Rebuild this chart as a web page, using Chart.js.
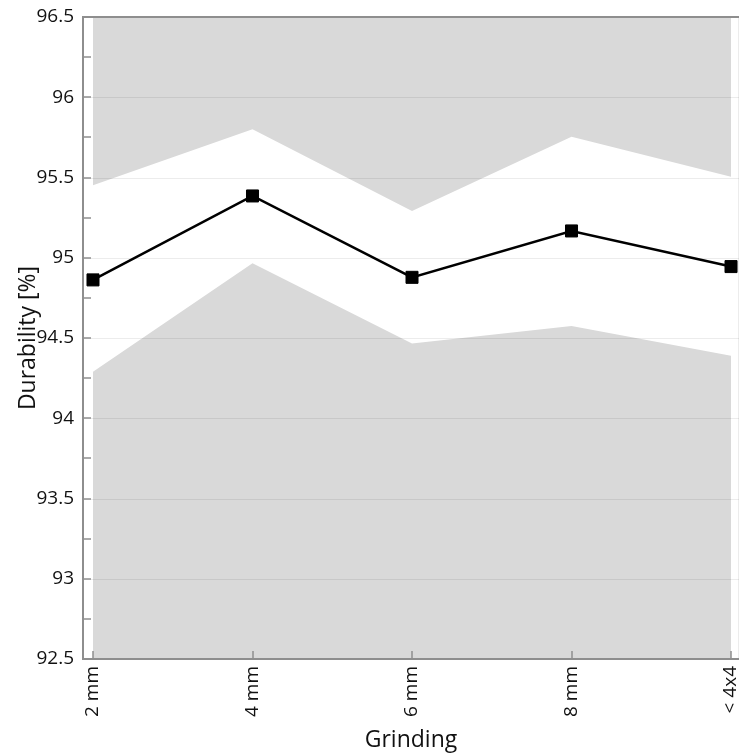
<!DOCTYPE html>
<html><head><meta charset="utf-8">
<script src="https://cdn.jsdelivr.net/npm/chart.js@4/dist/chart.umd.min.js"></script>
<style>html,body{margin:0;padding:0;background:#fff}#wrap{width:740px;height:756px}</style>
</head><body><div id="wrap"><canvas id="c" width="740" height="756"></canvas></div>
<script>
const categories = ['2 mm', '4 mm', '6 mm', '8 mm', '< 4x4'];
const durability = [94.862, 95.385, 94.878, 95.167, 94.945];
const upperBand = [95.452, 95.80, 95.292, 95.754, 95.505];
const lowerBand = [94.29, 94.965, 94.465, 94.575, 94.39];
const yMin = 92.5, yMax = 96.5, yStep = 0.5, yMinorStep = 0.25;

const pts = arr => arr.map((v, i) => ({x: i, y: v}));
const FONT = "'Open Sans', 'Noto Sans', sans-serif";
const AXIS_COLOR = '#8e8e8e';
const GRID_COLOR = 'rgba(0,0,0,0.075)';

const framePlugin = {
  id: 'frame',
  afterDatasetsDraw(chart) {
    const {ctx, chartArea: a, scales: {x, y}} = chart;
    ctx.save();
    ctx.strokeStyle = GRID_COLOR;
    ctx.lineWidth = 1;
    for (let v = yMin; v <= yMax + 1e-9; v += yStep) {
      const py = Math.round(y.getPixelForValue(v)) + 0.5;
      ctx.beginPath(); ctx.moveTo(a.left, py); ctx.lineTo(a.right, py); ctx.stroke();
    }
    ctx.beginPath(); ctx.moveTo(a.right - 0.5, a.top); ctx.lineTo(a.right - 0.5, a.bottom); ctx.stroke();
    ctx.strokeStyle = AXIS_COLOR;
    ctx.lineWidth = 2;
    ctx.beginPath();
    ctx.moveTo(a.right, a.top); ctx.lineTo(a.left, a.top); ctx.lineTo(a.left, a.bottom); ctx.lineTo(a.right, a.bottom);
    ctx.stroke();
    ctx.lineWidth = 1.5;
    ctx.beginPath();
    for (let v = yMin; v <= yMax + 1e-9; v += yMinorStep) {
      const py = Math.round(y.getPixelForValue(v));
      ctx.moveTo(a.left, py); ctx.lineTo(a.left + 8, py);
    }
    categories.forEach((c, i) => {
      const px = Math.round(x.getPixelForValue(i));
      ctx.moveTo(px, a.bottom); ctx.lineTo(px, a.bottom - 8);
    });
    ctx.stroke();
    ctx.restore();
  }
};

new Chart(document.getElementById('c'), {
  type: 'line',
  data: {
    datasets: [
      {
        label: 'Durability',
        data: pts(durability),
        borderColor: '#000',
        borderWidth: 2.5,
        pointStyle: 'rect',
        pointRadius: 8.5,
        pointBorderWidth: 1,
        pointBackgroundColor: '#000',
        pointBorderColor: '#000',
        tension: 0,
        fill: false,
        order: 0
      },
      {
        label: 'Upper',
        data: pts(upperBand),
        borderWidth: 0,
        borderColor: 'rgba(0,0,0,0)',
        backgroundColor: '#d9d9d9',
        pointRadius: 0,
        tension: 0,
        fill: 'end',
        order: 1
      },
      {
        label: 'Lower',
        data: pts(lowerBand),
        borderWidth: 0,
        borderColor: 'rgba(0,0,0,0)',
        backgroundColor: '#d9d9d9',
        pointRadius: 0,
        tension: 0,
        fill: 'start',
        order: 2
      }
    ]
  },
  options: {
    responsive: false,
    animation: false,
    devicePixelRatio: 1,
    layout: {autoPadding: false, padding: {top: 17, right: 1, left: 0, bottom: 0}},
    plugins: {legend: {display: false}, tooltip: {enabled: false}},
    scales: {
      x: {
        type: 'linear',
        min: -0.0627,
        max: 4.05,
        afterBuildTicks: s => { s.ticks = categories.map((c, i) => ({value: i})); },
        afterFit: s => { s.height = 97; s.paddingLeft = 0; s.paddingRight = 0; },
        grid: {display: false, drawTicks: false},
        border: {display: false},
        ticks: {
          minRotation: 90, maxRotation: 90, autoSkip: false, padding: 7,
          color: '#111',
          font: {family: FONT, size: 19},
          callback: v => categories[v]
        },
        title: {display: true, text: 'Grinding', color: '#111',
          font: {family: FONT, size: 23}, padding: {top: 0, bottom: 2}}
      },
      y: {
        type: 'linear',
        min: yMin, max: yMax,
        afterFit: s => { s.width = 83; s.paddingTop = 0; s.paddingBottom = 0; },
        grid: {display: false, drawTicks: false},
        border: {display: false},
        ticks: {
          stepSize: yStep, padding: 9, color: '#111',
          font: {family: FONT, size: 19},
          callback: v => String(+(+v).toFixed(2))
        },
        title: {display: true, text: 'Durability [%]', color: '#111',
          font: {family: FONT, size: 23}, padding: {top: 15, bottom: 0}}
      }
    }
  },
  plugins: [framePlugin]
});
</script>
</body></html>
